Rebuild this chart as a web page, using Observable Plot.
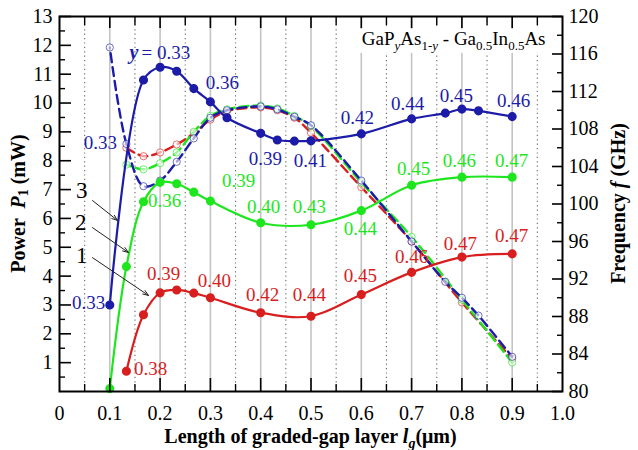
<!DOCTYPE html>
<html>
<head>
<meta charset="utf-8">
<script src="https://cdn.jsdelivr.net/npm/d3@7"></script>
<script src="https://cdn.jsdelivr.net/npm/@observablehq/plot@0.6"></script>
<style>
  html, body { margin: 0; padding: 0; background: white; }
  svg text, svg tspan { font-family: "Liberation Serif", "Times New Roman", serif !important; }
</style>
</head>
<body>
<div id="chart"></div>
<script>
// ---------- data ----------
// Power P1 (mW), solid lines with filled dots
const blueX  = [0.1, 0.167, 0.2, 0.233, 0.267, 0.3, 0.333, 0.4, 0.433, 0.467, 0.5, 0.6, 0.7, 0.767, 0.8, 0.833, 0.9];
const blueP  = [3.0, 10.8, 11.24, 11.1, 10.5, 10.04, 9.49, 8.95, 8.72, 8.68, 8.69, 8.93, 9.45, 9.65, 9.79, 9.73, 9.53];
const greenX = [0.1, 0.133, 0.167, 0.2, 0.233, 0.267, 0.3, 0.4, 0.5, 0.6, 0.7, 0.8, 0.9];
const greenP = [0.1, 4.33, 6.58, 7.25, 7.2, 6.91, 6.6, 5.85, 5.78, 6.27, 7.15, 7.43, 7.43];
const redX   = [0.133, 0.167, 0.2, 0.233, 0.267, 0.3, 0.4, 0.5, 0.6, 0.7, 0.8, 0.9];
const redP   = [0.7, 2.66, 3.42, 3.52, 3.41, 3.25, 2.73, 2.61, 3.36, 4.13, 4.66, 4.77];

// Frequency f (GHz), dashed lines with open circles
const blueFX  = [0.1, 0.133, 0.167, 0.2, 0.233, 0.267, 0.3, 0.333, 0.4, 0.433, 0.467, 0.5, 0.6, 0.7, 0.767, 0.8, 0.833, 0.9];
const blueF   = [116.7, 106.4, 101.9, 102.5, 104.5, 107.0, 109.2, 110.0, 110.4, 110.1, 109.3, 108.4, 102.5, 96.0, 91.7, 90.0, 88.1, 83.7];
const greenFX = [0.133, 0.167, 0.2, 0.233, 0.267, 0.3, 0.333, 0.4, 0.433, 0.467, 0.5, 0.6, 0.7, 0.8, 0.9];
const greenF  = [104.2, 103.7, 104.35, 105.5, 107.7, 109.4, 110.1, 110.5, 110.2, 109.4, 108.3, 102.3, 96.5, 89.8, 83.1];
const redFX   = [0.133, 0.167, 0.2, 0.233, 0.267, 0.3, 0.333, 0.4, 0.433, 0.467, 0.5, 0.6, 0.7, 0.8, 0.9];
const redF    = [106.0, 105.1, 105.5, 106.35, 107.55, 109.0, 109.9, 110.3, 110.0, 109.2, 107.6, 101.8, 96.0, 89.5, 83.5];

// composition labels y (anchor in data units)
const blueLabels = [
  {x: 0.0815, y: 8.63, t: "0.33"}, {x: 0.324, y: 10.71, t: "0.36"}, {x: 0.4095, y: 8.08, t: "0.39"},
  {x: 0.499, y: 8.01, t: "0.41"}, {x: 0.592, y: 9.50, t: "0.42"}, {x: 0.692, y: 9.98, t: "0.44"},
  {x: 0.789, y: 10.26, t: "0.45"}, {x: 0.903, y: 10.09, t: "0.46"}, {x: 0.0577, y: 3.08, t: "0.33"}
];
const greenLabels = [
  {x: 0.209, y: 6.59, t: "0.36"}, {x: 0.356, y: 7.31, t: "0.39"}, {x: 0.4056, y: 6.41, t: "0.40"},
  {x: 0.497, y: 6.41, t: "0.43"}, {x: 0.598, y: 5.62, t: "0.44"}, {x: 0.704, y: 7.73, t: "0.45"},
  {x: 0.795, y: 8.01, t: "0.46"}, {x: 0.899, y: 8.01, t: "0.47"}
];
const redLabels = [
  {x: 0.181, y: 0.80, t: "0.38"}, {x: 0.207, y: 4.09, t: "0.39"}, {x: 0.308, y: 3.85, t: "0.40"},
  {x: 0.4036, y: 3.36, t: "0.42"}, {x: 0.497, y: 3.36, t: "0.44"}, {x: 0.598, y: 4.02, t: "0.45"},
  {x: 0.700, y: 4.68, t: "0.46"}, {x: 0.797, y: 5.13, t: "0.47"}, {x: 0.899, y: 5.41, t: "0.47"}
];
const yEqLabel = [{x: 0.157, y: 11.75}];
const curveNumbers = [{x: 0.044, y: 6.98, t: "3"}, {x: 0.042, y: 5.86, t: "2"}, {x: 0.044, y: 4.72, t: "1"}];
const curveArrows = [
  {x1: 0.0656, y1: 6.62, x2: 0.1153, y2: 5.93},
  {x1: 0.0656, y1: 5.68, x2: 0.137, y2: 4.82},
  {x1: 0.0656, y1: 4.64, x2: 0.177, y2: 3.33}
];

// ticks
const xTickLabels = [0, 0.1, 0.2, 0.3, 0.4, 0.5, 0.6, 0.7, 0.8, 0.9, 1.0];
const xMajorTicks = [0.1, 0.2, 0.3, 0.4, 0.5, 0.6, 0.7, 0.8, 0.9];
const xMinorTicks = [0.05, 0.15, 0.25, 0.35, 0.45, 0.55, 0.65, 0.75, 0.85, 0.95];
const pTicks = [1, 2, 3, 4, 5, 6, 7, 8, 9, 10, 11, 12, 13];
const pMinorTicks = [0.5, 1.5, 2.5, 3.5, 4.5, 5.5, 6.5, 7.5, 8.5, 9.5, 10.5, 11.5, 12.5];
const fTicks = [80, 84, 88, 92, 96, 100, 104, 108, 112, 116, 120];
const fMinorTicks = [82, 86, 90, 94, 98, 102, 106, 110, 114, 118];

// ---------- helpers ----------
const F0 = 80, F1 = 120, P1 = 13;
const f2p = f => (f - F0) / (F1 - F0) * P1;      // right axis -> left axis units
const p2f = p => F0 + p / P1 * (F1 - F0);
const zip = (xs, ys) => xs.map((x, i) => ({x, y: ys[i]}));
const zipF = (xs, fs) => xs.map((x, i) => ({x, y: f2p(fs[i])}));

const BLUE = "#1c1ca8", GREEN = "#1ee61e", RED = "#d81e1e";
const W = 638, H = 450, ML = 59, MR = 76, MT = 16, MB = 59;
const PW = W - ML - MR, PH = H - MT - MB;
const FONT = "Liberation Serif";

function powerMarks(data, color) {
  return [
    Plot.line(data, {x: "x", y: "y", curve: "catmull-rom", stroke: color, strokeWidth: 2.2}),
    Plot.dot(data, {x: "x", y: "y", r: 3.8, fill: color, stroke: color})
  ];
}
function freqMarks(data, color, offset) {
  return [
    Plot.line(data, {x: "x", y: "y", curve: "catmull-rom", stroke: color, strokeWidth: 2.4,
                     strokeDasharray: "9,5", strokeDashoffset: offset}),
    Plot.dot(data, {x: "x", y: "y", r: 3.6, fill: "white", fillOpacity: 0.6, stroke: color, strokeWidth: 0.9, strokeOpacity: 0.7})
  ];
}
function labelMarks(data, color) {
  return Plot.text(data, {x: "x", y: "y", text: "t", fill: color, fontSize: 19, fontFamily: FONT});
}

const plot = Plot.plot({
  width: W, height: H,
  marginLeft: ML, marginRight: MR, marginTop: MT, marginBottom: MB,
  x: {domain: [0, 1]},
  y: {domain: [0, P1]},
  style: {fontFamily: FONT, fontSize: "20px", color: "black", background: "white", overflow: "visible"},
  marks: [
    // grid
    Plot.ruleX(xMajorTicks, {stroke: "#c4c4c4", strokeWidth: 1.6}),
    Plot.ruleX(xMinorTicks, {stroke: "#666", strokeWidth: 1.1, strokeDasharray: "1.2,3.2"}),
    // frequency (dashed)
    ...freqMarks(zipF(redFX, redF), RED, 0),
    ...freqMarks(zipF(greenFX, greenF), GREEN, 4),
    ...freqMarks(zipF(blueFX, blueF), BLUE, 8),
    // power (solid)
    ...powerMarks(zip(redX, redP), RED),
    ...powerMarks(zip(greenX, greenP), GREEN),
    ...powerMarks(zip(blueX, blueP), BLUE),
    // labels
    labelMarks(blueLabels, BLUE),
    labelMarks(greenLabels, GREEN),
    labelMarks(redLabels, RED),
    Plot.text(yEqLabel, {x: "x", y: "y", text: () => "y", textAnchor: "end", fill: BLUE, fontSize: 20, fontStyle: "italic", fontWeight: "bold", fontFamily: FONT}),
    Plot.text(yEqLabel, {x: "x", y: "y", text: () => "= 0.33", textAnchor: "start", dx: 3, fill: BLUE, fontSize: 19, fontFamily: FONT}),
    // curve numbers and arrows
    Plot.text(curveNumbers, {x: "x", y: "y", text: "t", fill: "black", fontSize: 23, fontFamily: FONT}),
    Plot.arrow(curveArrows, {x1: "x1", y1: "y1", x2: "x2", y2: "y2", stroke: "#222", strokeWidth: 1, headLength: 9, headAngle: 40}),
    // ticks (inward)
    Plot.tickX(xMajorTicks, {x: d => d, insetTop: PH - 13, stroke: "black", strokeWidth: 1.6}),
    Plot.tickX(xMinorTicks, {x: d => d, insetTop: PH - 7, stroke: "black", strokeWidth: 1.4}),
    Plot.tickX(xMajorTicks, {x: d => d, insetBottom: PH - 12, stroke: "black", strokeWidth: 1.6}),
    Plot.tickX(xMinorTicks, {x: d => d, insetBottom: PH - 9, stroke: "black", strokeWidth: 1.4}),
    Plot.tickY(pTicks, {y: d => d, insetRight: PW - 12, stroke: "black", strokeWidth: 1.6}),
    Plot.tickY(pMinorTicks, {y: d => d, insetRight: PW - 6, stroke: "black", strokeWidth: 1.4}),
    Plot.tickY(fTicks, {y: d => f2p(d), insetLeft: PW - 10, stroke: "black", strokeWidth: 1.6}),
    Plot.tickY(fMinorTicks, {y: d => f2p(d), insetLeft: PW - 5, stroke: "black", strokeWidth: 1.4}),
    // axes
    Plot.axisX(xTickLabels, {anchor: "bottom", tickSize: 0, tickPadding: 14, label: null, fontSize: 20, fontFamily: FONT,
      tickFormat: d => d === 0 ? "0" : d.toFixed(1)}),
    Plot.axisY(pTicks, {anchor: "left", tickSize: 0, tickPadding: 7, label: null, fontSize: 20, fontFamily: FONT}),
    Plot.axisY(fTicks.map(f2p), {anchor: "right", tickSize: 0, tickPadding: 6, label: null, fontSize: 20, fontFamily: FONT,
      tickFormat: d => String(Math.round(p2f(d)))}),
    Plot.frame({stroke: "black", strokeWidth: 2})
  ]
});

document.getElementById("chart").appendChild(plot);

// ---------- rich text annotations ----------
const svg = d3.select(plot);
const xs = plot.scale("x"), ys = plot.scale("y");

// title (material system) with white background
const tg = svg.append("g");
const tt = tg.append("text")
  .attr("x", xs.apply(0.602)).attr("y", ys.apply(12.0))
  .attr("text-anchor", "start")
  .style("font-family", FONT).attr("font-size", 19).attr("fill", "black");
tt.append("tspan").text("GaP");
tt.append("tspan").attr("font-size", 13).attr("font-style", "italic").attr("dy", 5).text("y");
tt.append("tspan").attr("dy", -5).text("As");
tt.append("tspan").attr("font-size", 13).attr("dy", 5).text("1-");
tt.append("tspan").attr("font-size", 13).attr("font-style", "italic").text("y");
tt.append("tspan").attr("dy", -5).text(" - Ga");
tt.append("tspan").attr("font-size", 13).attr("dy", 5).text("0.5");
tt.append("tspan").attr("dy", -5).text("In");
tt.append("tspan").attr("font-size", 13).attr("dy", 5).text("0.5");
tt.append("tspan").attr("dy", -5).text("As");
const bb = tt.node().getBBox();
tg.insert("rect", "text")
  .attr("x", bb.x - 3).attr("y", bb.y + 1).attr("width", bb.width + 6).attr("height", bb.height - 1)
  .attr("fill", "white");

// left axis title
const lt = svg.append("text")
  .attr("transform", `translate(20,${MT + PH / 2}) rotate(-90)`)
  .attr("text-anchor", "middle").attr("dominant-baseline", "middle")
  .style("font-family", FONT).attr("font-size", 20).attr("font-weight", "bold").attr("fill", "black");
lt.append("tspan").text("Power  ");
lt.append("tspan").attr("font-style", "italic").text("P");
lt.append("tspan").attr("font-size", 14).attr("dy", 5).text("1");
lt.append("tspan").attr("dy", -5).text(" (mW)");

// right axis title
const rt = svg.append("text")
  .attr("transform", `translate(620,${MT + PH / 2}) rotate(-90)`)
  .attr("text-anchor", "middle").attr("dominant-baseline", "middle")
  .style("font-family", FONT).attr("font-size", 20).attr("font-weight", "bold").attr("fill", "black");
rt.append("tspan").text("Frequency ");
rt.append("tspan").attr("font-style", "italic").text("f");
rt.append("tspan").text(" (GHz)");

// bottom axis title
const bt = svg.append("text")
  .attr("x", ML + PW / 2).attr("y", 443)
  .attr("text-anchor", "middle")
  .style("font-family", FONT).attr("font-size", 20).attr("font-weight", "bold").attr("fill", "black");
bt.append("tspan").text("Length of graded-gap layer ");
bt.append("tspan").attr("font-style", "italic").text("l");
bt.append("tspan").attr("font-style", "italic").attr("font-size", 14).attr("dy", 5).text("g");
bt.append("tspan").attr("dy", -5).text("(μm)");

svg.selectAll("text").style("font-family", FONT);
</script>
</body>
</html>
